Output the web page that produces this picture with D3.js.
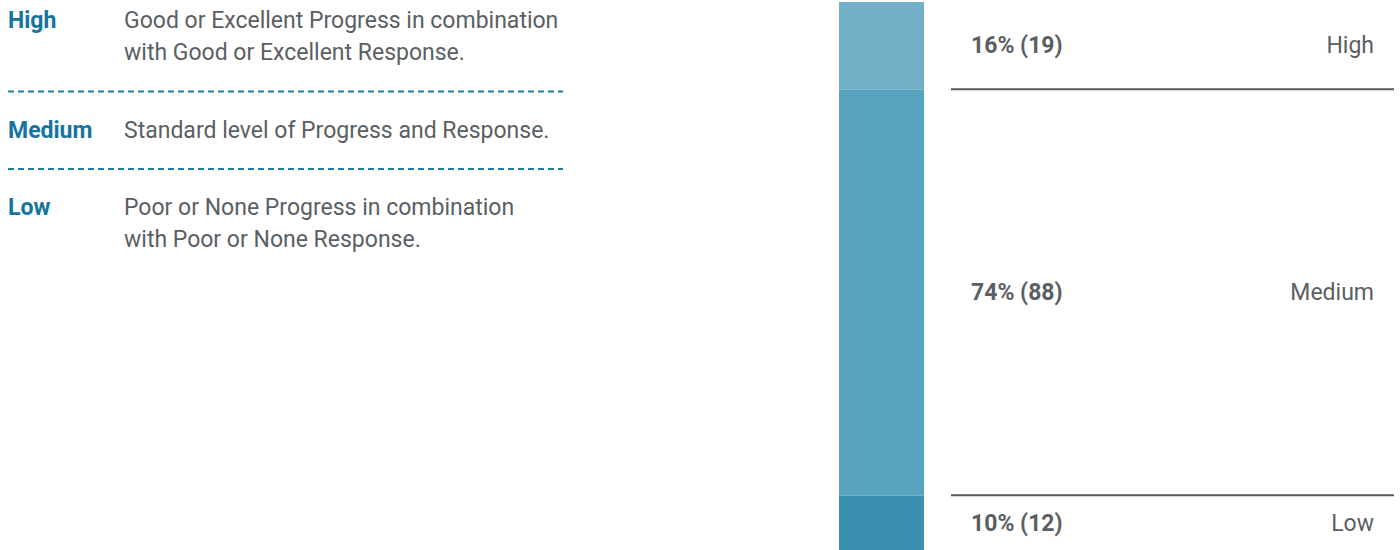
<!DOCTYPE html>
<html>
<head>
<meta charset="utf-8">
<script src="https://cdn.jsdelivr.net/npm/d3@7"></script>
<style>
  html, body { margin: 0; padding: 0; background: #fff; }
  svg { display: block; font-family: Roboto, "Noto Sans", sans-serif; }
</style>
</head>
<body>
<svg id="chart" width="1400" height="550"></svg>
<script>
const categories = ["High", "Medium", "Low"];
const counts = [19, 88, 12];
const descriptions = [
  ["Good or Excellent Progress in combination", "with Good or Excellent Response."],
  ["Standard level of Progress and Response."],
  ["Poor or None Progress in combination", "with Poor or None Response."]
];
const colors = ["#72b0c8", "#56a2bf", "#3a8fb1"];

const svg = d3.select("#chart");
const total = d3.sum(counts);

// ---------- Left legend ----------
const labelColor = "#14749e";
const textColor = "#5a5f63";
const fs = 23;
const lineH = 32;
const rowBase = [28, 138, 215]; // baseline of first line of each row
const legend = svg.append("g");
categories.forEach((c, i) => {
  legend.append("text")
    .attr("x", 8).attr("y", rowBase[i])
    .attr("font-size", fs).attr("font-weight", 700)
    .attr("fill", labelColor).text(c);
  descriptions[i].forEach((t, j) => {
    legend.append("text")
      .attr("x", 124).attr("y", rowBase[i] + j * lineH)
      .attr("font-size", fs)
      .attr("fill", textColor).text(t);
  });
});
[91.5, 169].forEach(y => {
  legend.append("line")
    .attr("x1", 8).attr("x2", 563).attr("y1", y).attr("y2", y)
    .attr("stroke", "#1a7ca4").attr("stroke-width", 2)
    .attr("stroke-dasharray", "6,4");
});

// ---------- Stacked bar ----------
const y = d3.scaleLinear().domain([0, total]).range([2, 551]);
const stacked = [];
let acc = 0;
counts.forEach((v, i) => { stacked.push({cat: categories[i], v, y0: acc, y1: acc + v, i}); acc += v; });

const barX = 839, barW = 85;
svg.append("g").selectAll("rect").data(stacked).join("rect")
  .attr("x", barX).attr("width", barW)
  .attr("y", d => y(d.y0))
  .attr("height", d => y(d.y1) - y(d.y0))
  .attr("fill", d => colors[d.i]);

// separators
svg.append("g").selectAll("line").data(stacked.slice(0, -1)).join("line")
  .attr("x1", 951).attr("x2", 1394)
  .attr("y1", d => y(d.y1) - 0.5).attr("y2", d => y(d.y1) - 0.5)
  .attr("stroke", "#555a5e").attr("stroke-width", 2);

// labels
const lab = svg.append("g");
lab.selectAll("text.val").data(stacked).join("text")
  .attr("class", "val")
  .attr("x", 971)
  .attr("y", d => (y(d.y0) + y(d.y1)) / 2)
  .attr("dominant-baseline", "central")
  .attr("font-size", fs).attr("font-weight", 700)
  .attr("fill", "#5a5f63")
  .text(d => `${Math.round(d.v / total * 100)}% (${d.v})`);
lab.selectAll("text.cat").data(stacked).join("text")
  .attr("class", "cat")
  .attr("x", 1374)
  .attr("y", d => (y(d.y0) + y(d.y1)) / 2)
  .attr("dominant-baseline", "central")
  .attr("text-anchor", "end")
  .attr("font-size", fs)
  .attr("fill", "#5a5f63")
  .text(d => d.cat);
</script>
</body>
</html>
